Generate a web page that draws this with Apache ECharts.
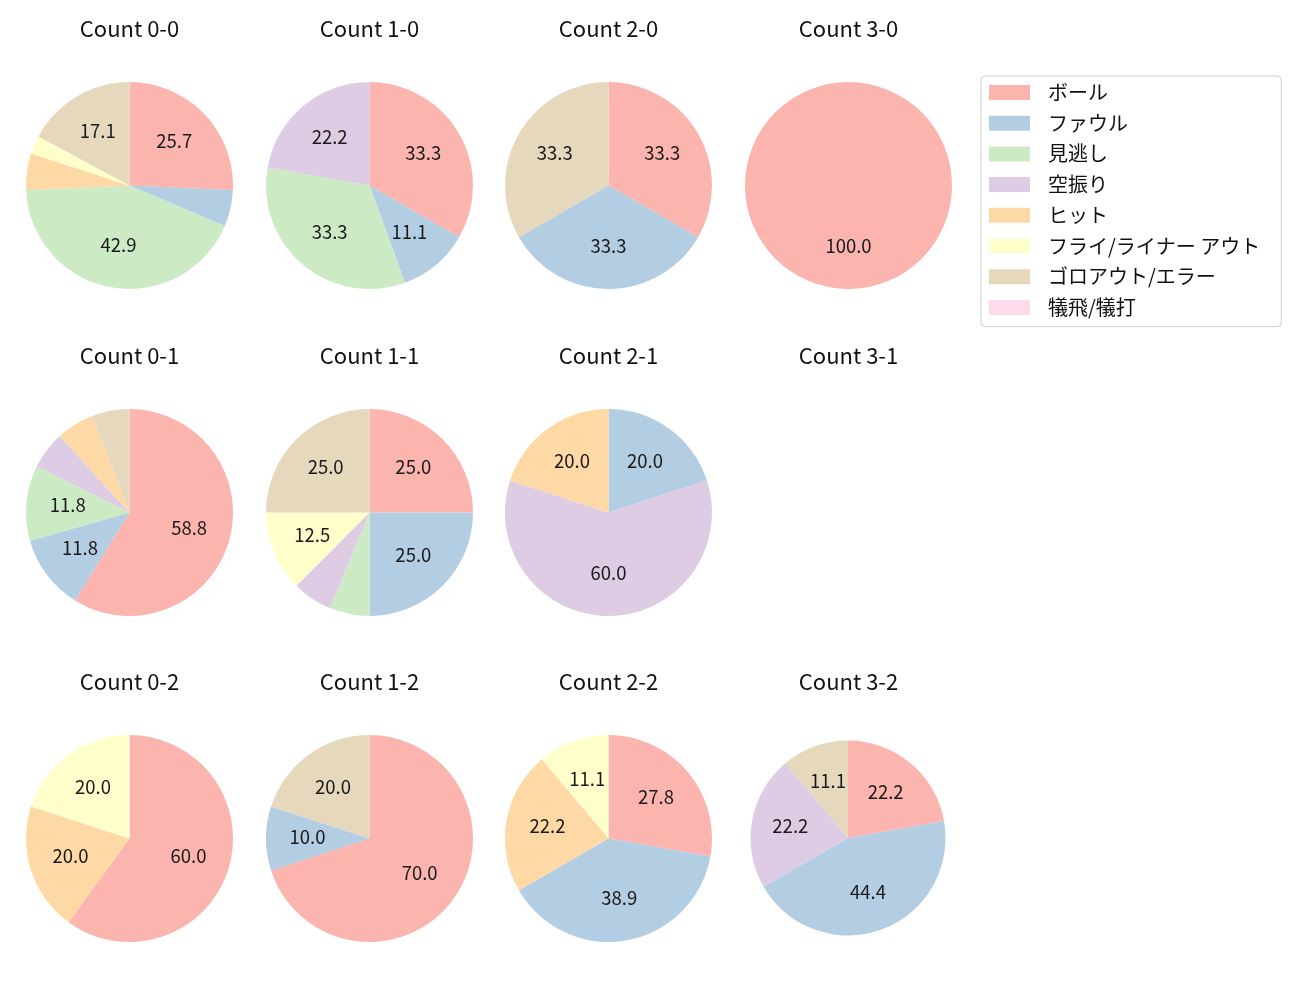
<!DOCTYPE html>
<html>
<head>
<meta charset="utf-8">
<script src="https://cdn.jsdelivr.net/npm/echarts@6/dist/echarts.min.js"></script>
<style>
html,body{margin:0;padding:0;background:#fff;}
#chart{width:1300px;height:1000px;}
</style>
</head>
<body>
<div id="chart"></div>
<script>
const categories = ['ボール', 'ファウル', '見逃し', '空振り', 'ヒット', 'フライ/ライナー アウト', 'ゴロアウト/エラー', '犠飛/犠打'];
const colors = ['#fbb4ae', '#b3cde3', '#ccebc5', '#decbe4', '#fed9a6', '#ffffcc', '#e5d8bd', '#fddaec'];

const titles = ['Count 0-0', 'Count 1-0', 'Count 2-0', 'Count 3-0',
                'Count 0-1', 'Count 1-1', 'Count 2-1', 'Count 3-1',
                'Count 0-2', 'Count 1-2', 'Count 2-2', 'Count 3-2'];

const count00 = [9, 2, 15, 0, 2, 1, 6, 0];
const count10 = [3, 1, 3, 2, 0, 0, 0, 0];
const count20 = [1, 1, 0, 0, 0, 0, 1, 0];
const count30 = [1, 0, 0, 0, 0, 0, 0, 0];
const count01 = [10, 2, 2, 1, 1, 0, 1, 0];
const count11 = [4, 4, 1, 1, 0, 2, 4, 0];
const count21 = [0, 1, 0, 3, 1, 0, 0, 0];
const count31 = [0, 0, 0, 0, 0, 0, 0, 0];
const count02 = [3, 0, 0, 0, 1, 1, 0, 0];
const count12 = [7, 1, 0, 0, 0, 0, 2, 0];
const count22 = [5, 7, 0, 0, 4, 2, 0, 0];
const count32 = [2, 4, 0, 2, 0, 0, 1, 0];

const allCounts = [count00, count10, count20, count30,
                   count01, count11, count21, count31,
                   count02, count12, count22, count32];

// layout
const colX = [129.5, 369.5, 608.5, 848.5];
const rowY = [185.5, 512.5, 838.5];
const titleY = [29, 356, 682];
const radii = [103.5, 103.5, 103.5, 103.5, 103.5, 103.5, 103.5, 103.5, 103.5, 103.5, 103.5, 97.5];
const centerOverride = {11: [848, 838]};

const FONT = '"Noto Sans CJK JP", "Noto Sans", sans-serif';

const title = [];
const series = [];
allCounts.forEach((vals, i) => {
  const c = i % 4, r = Math.floor(i / 4);
  title.push({
    text: titles[i],
    left: colX[c], top: titleY[r] - 11.5,
    textAlign: 'center',
    padding: 0,
    textStyle: {fontFamily: FONT, fontSize: 22, fontWeight: 'normal', color: '#111'}
  });
  const total = vals.reduce((a, b) => a + b, 0);
  if (total === 0) return;
  const center = centerOverride[i] || [colX[c], rowY[r]];
  const R = radii[i];
  series.push({
    type: 'pie',
    center: center,
    radius: [0, R],
    startAngle: 90,
    clockwise: true,
    avoidLabelOverlap: false,
    label: {show: false},
    labelLine: {show: false},
    emphasis: {disabled: true},
    animation: false,
    data: categories.map((name, k) => ({name: name, value: vals[k], itemStyle: {color: colors[k]}}))
  });
  // transparent overlay to place labels near 0.6 radius
  series.push({
    type: 'pie',
    center: center,
    radius: [0, R * 1.14],
    startAngle: 90,
    clockwise: true,
    silent: true,
    avoidLabelOverlap: false,
    legendHoverLink: false,
    emphasis: {disabled: true},
    animation: false,
    labelLine: {show: false},
    data: categories.map((name, k) => {
      const pct = vals[k] / total * 100;
      return {
        name: name + '#lbl',
        value: vals[k],
        itemStyle: {color: 'rgba(0,0,0,0)'},
        label: {
          show: vals[k] > 0 && pct > 7,
          position: 'inside',
          formatter: pct.toFixed(1),
          color: '#1a1a1a',
          fontFamily: FONT,
          fontSize: 18.5,
          offset: [0, -1.5]
        }
      };
    })
  });
});

const chart = echarts.init(document.getElementById('chart'), null, {renderer: 'canvas'});
chart.setOption({
  backgroundColor: '#fff',
  animation: false,
  title: title,
  legend: {
    data: categories,
    orient: 'vertical',
    left: 981,
    top: 76,
    itemWidth: 41,
    itemHeight: 15,
    itemGap: 10.7,
    icon: 'rect',
    padding: [6.5, 21, 9.2, 8],
    borderColor: '#cccccc',
    borderWidth: 1,
    borderRadius: 4,
    selectedMode: false,
    textStyle: {fontFamily: FONT, fontSize: 20, color: '#111', lineHeight: 20, padding: [0, 0, 0, 13]}
  },
  series: series
});
</script>
</body>
</html>
